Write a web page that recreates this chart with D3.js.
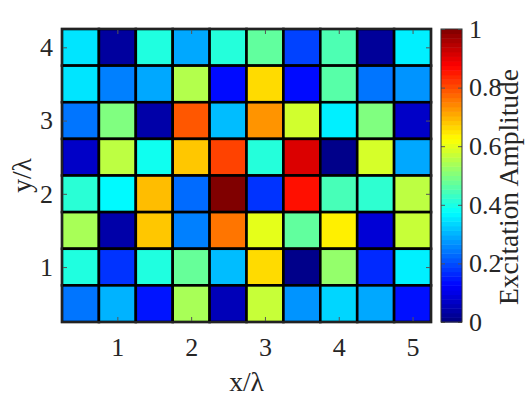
<!DOCTYPE html>
<html><head><meta charset="utf-8">
<script src="https://cdn.jsdelivr.net/npm/d3@7"></script>
<style>body{margin:0;background:#fff}svg{display:block}</style>
</head><body><svg id="c" width="532" height="399"></svg>
<script>
// Element x positions (in wavelengths), column centers
const xCenters = [0.5, 1.0, 1.5, 2.0, 2.5, 3.0, 3.5, 4.0, 4.5, 5.0];
// Element y positions, row centers (top row first)
const yCenters = [4.0, 3.5, 3.0, 2.5, 2.0, 1.5, 1.0, 0.5];
// Excitation amplitudes, rows listed top to bottom
const row40 = [0.35, 0.03, 0.405, 0.29, 0.41, 0.47, 0.19, 0.45, 0.025, 0.36];
const row35 = [0.35, 0.25, 0.29, 0.55, 0.135, 0.66, 0.135, 0.46, 0.24, 0.27];
const row30 = [0.24, 0.50, 0.04, 0.79, 0.31, 0.73, 0.58, 0.36, 0.50, 0.07];
const row25 = [0.07, 0.56, 0.39, 0.68, 0.81, 0.41, 0.91, 0.01, 0.585, 0.29];
const row20 = [0.415, 0.37, 0.69, 0.23, 1.0, 0.175, 0.86, 0.445, 0.42, 0.56];
const row15 = [0.54, 0.04, 0.68, 0.25, 0.76, 0.60, 0.47, 0.64, 0.085, 0.57];
const row10 = [0.405, 0.175, 0.405, 0.475, 0.31, 0.66, 0.01, 0.52, 0.165, 0.36];
const row05 = [0.24, 0.30, 0.145, 0.54, 0.055, 0.57, 0.27, 0.335, 0.29, 0.14];
const amplitudes = [row40, row35, row30, row25, row20, row15, row10, row05];
const xTicks = [1, 2, 3, 4, 5];
const yTicks = [1, 2, 3, 4];
const cbTicks = [0, 0.2, 0.4, 0.6, 0.8, 1];
const cbTickLabels = ["0", "0.2", "0.4", "0.6", "0.8", "1"];

const cellSize = 0.5;
const FONT = "'Liberation Serif','Times New Roman',serif";
const TICK_FS = 26, LABEL_FS = 27.5;

function clamp(v){ return Math.max(0, Math.min(1, v)); }
function jet(t){
  const r = clamp(1.5 - Math.abs(4*t - 3));
  const g = clamp(1.5 - Math.abs(4*t - 2));
  const b = clamp(1.5 - Math.abs(4*t - 1));
  return d3.rgb(r*255, g*255, b*255).toString();
}
const color = d3.scaleSequential(jet).domain([0, 1]);

const svg = d3.select("#c");
const L = 62, R = 431, T = 29, B = 322;
const x = d3.scaleLinear().domain([0.25, 5.25]).range([L, R]);
const y = d3.scaleLinear().domain([0.25, 4.25]).range([B, T]);

const cells = [];
amplitudes.forEach((row, i) => row.forEach((v, j) => cells.push({x: xCenters[j], y: yCenters[i], v})));

svg.append("g").selectAll("rect").data(cells).join("rect")
  .attr("x", d => x(d.x - cellSize/2))
  .attr("y", d => y(d.y + cellSize/2))
  .attr("width", d => x(d.x + cellSize/2) - x(d.x - cellSize/2))
  .attr("height", d => y(d.y - cellSize/2) - y(d.y + cellSize/2))
  .attr("fill", d => color(d.v))
  .attr("stroke", "#000")
  .attr("stroke-width", 2.6);

function styleAxis(g, showText){
  g.select(".domain").remove();
  g.selectAll(".tick line").attr("stroke", "#555").attr("stroke-width", 1);
  g.selectAll(".tick text").attr("font-family", FONT).attr("font-size", TICK_FS).attr("fill", "#262626");
  if (!showText) g.selectAll(".tick text").remove();
}

svg.append("g").attr("transform", `translate(0,${B})`)
  .call(d3.axisBottom(x).tickValues(xTicks).tickSize(-5).tickPadding(16).tickFormat(d3.format("d")))
  .call(g => styleAxis(g, true));
svg.append("g").attr("transform", `translate(0,${T})`)
  .call(d3.axisTop(x).tickValues(xTicks).tickSize(-5))
  .call(g => styleAxis(g, false));
svg.append("g").attr("transform", `translate(${L},0)`)
  .call(d3.axisLeft(y).tickValues(yTicks).tickSize(-5).tickPadding(9).tickFormat(d3.format("d")))
  .call(g => styleAxis(g, true));
svg.append("g").attr("transform", `translate(${R},0)`)
  .call(d3.axisRight(y).tickValues(yTicks).tickSize(-5))
  .call(g => styleAxis(g, false));

svg.append("rect").attr("x", L).attr("y", T).attr("width", R - L).attr("height", B - T)
  .attr("fill", "none").attr("stroke", "#222").attr("stroke-width", 2);

svg.append("text").attr("x", (L + R)/2).attr("y", 391).attr("text-anchor", "middle")
  .attr("font-family", FONT).attr("font-size", LABEL_FS).attr("fill", "#262626").text("x/λ");
svg.append("text").attr("transform", `translate(31,${(T + B)/2}) rotate(-90)`).attr("text-anchor", "middle")
  .attr("font-family", FONT).attr("font-size", LABEL_FS).attr("fill", "#262626").text("y/λ");

// Colorbar
const CL = 441, CR = 462;
const cb = d3.scaleLinear().domain([0, 1]).range([B, T]);
const nBands = 64;
const bands = d3.range(nBands).map(i => ({lo: i/nBands, hi: (i+1)/nBands}));
svg.append("g").selectAll("rect").data(bands).join("rect")
  .attr("x", CL).attr("width", CR - CL)
  .attr("y", d => cb(d.hi)).attr("height", d => cb(d.lo) - cb(d.hi) + 0.5)
  .attr("fill", d => color((d.lo + d.hi)/2));
svg.append("g").attr("transform", `translate(${CR},0)`)
  .call(d3.axisRight(cb).tickValues(cbTicks).tickSize(-4).tickPadding(7).tickFormat((d, i) => cbTickLabels[i]))
  .call(g => styleAxis(g, true));
svg.append("g").attr("transform", `translate(${CL},0)`)
  .call(d3.axisLeft(cb).tickValues(cbTicks).tickSize(-4))
  .call(g => styleAxis(g, false));
svg.append("rect").attr("x", CL).attr("y", T).attr("width", CR - CL).attr("height", B - T)
  .attr("fill", "none").attr("stroke", "#333").attr("stroke-width", 1);
svg.append("text").attr("transform", `translate(518,187) rotate(-90)`).attr("text-anchor", "middle")
  .attr("font-family", FONT).attr("font-size", LABEL_FS).attr("fill", "#262626").text("Excitation Amplitude");
</script></body></html>
